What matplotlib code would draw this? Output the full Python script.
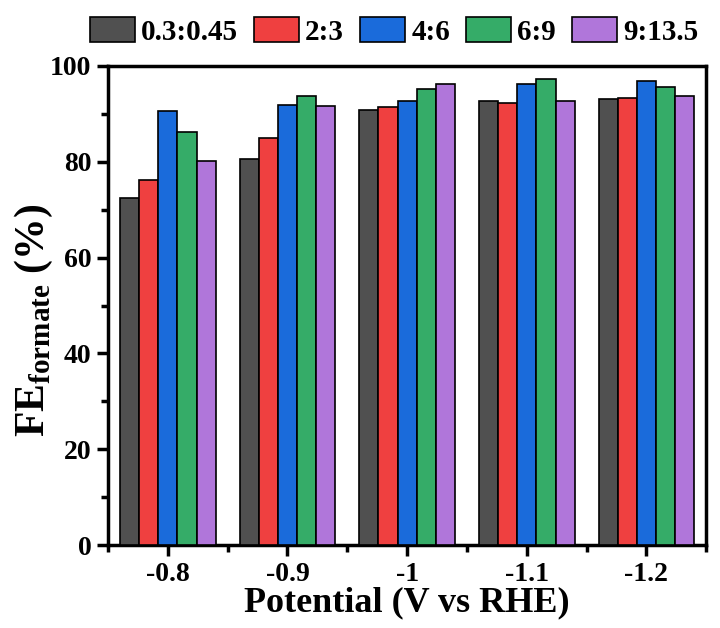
import matplotlib
matplotlib.use("Agg")
import matplotlib.pyplot as plt
import numpy as np
from matplotlib.ticker import MultipleLocator, FixedLocator

potentials = ["-0.8", "-0.9", "-1", "-1.1", "-1.2"]
series_names = ["0.3:0.45", "2:3", "4:6", "6:9", "9:13.5"]
s_03_045 = [72.4, 80.5, 90.8, 92.6, 93.1]
s_2_3 = [76.1, 84.9, 91.4, 92.3, 93.3]
s_4_6 = [90.5, 91.8, 92.6, 96.2, 96.9]
s_6_9 = [86.2, 93.7, 95.1, 97.2, 95.6]
s_9_135 = [80.1, 91.6, 96.3, 92.6, 93.7]
series = [s_03_045, s_2_3, s_4_6, s_6_9, s_9_135]
colors = ["#505050", "#EF4040", "#1A6BDB", "#35AC68", "#B076DA"]

plt.rcParams['font.family'] = ['Liberation Serif', 'DejaVu Serif']
plt.rcParams['font.weight'] = 'bold'
plt.rcParams['mathtext.fontset'] = 'custom'
plt.rcParams['mathtext.rm'] = 'Liberation Serif:bold'
plt.rcParams['mathtext.bf'] = 'Liberation Serif:bold'

fig = plt.figure(figsize=(7.2, 6.28), dpi=100)
ax = fig.add_axes([0.15, 0.132, 0.831, 0.763])

x = np.arange(1, len(potentials) + 1)
w = 0.16
for i, (vals, name, c) in enumerate(zip(series, series_names, colors)):
    ax.bar(x + (i - 2) * w, vals, width=w, color=c, edgecolor='black',
           linewidth=1.2, label=name, zorder=3)

ax.set_xlim(0.5, 5.5)
ax.set_ylim(0, 100)
ax.set_xticks(x)
ax.set_xticklabels(potentials)
ax.xaxis.set_minor_locator(FixedLocator(np.arange(0.5, 6.0, 1.0)))
ax.yaxis.set_major_locator(MultipleLocator(20))
ax.yaxis.set_minor_locator(MultipleLocator(10))

for s in ax.spines.values():
    s.set_linewidth(2.5)
ax.tick_params(axis='both', which='major', direction='out', length=8, width=2.5,
               labelsize=20, top=False, right=False, pad=4)
ax.tick_params(axis='both', which='minor', direction='out', length=5, width=2.5,
               top=False, right=False)
for lab in ax.get_xticklabels() + ax.get_yticklabels():
    lab.set_fontweight('bold')

ax.set_xlabel("Potential (V vs RHE)", fontsize=26, fontweight='bold', labelpad=0)
ax.set_ylabel(r"FE$_{\mathrm{formate}}$ (%)", fontsize=30, fontweight='bold')
ax.yaxis.set_label_coords(-0.088, 0.47)

leg = ax.legend(loc='lower center', bbox_to_anchor=(0.478, 1.0), ncol=5, frameon=False,
                prop={'family': 'Liberation Serif', 'weight': 'bold', 'size': 21},
                handlelength=1.55, handleheight=0.9, columnspacing=0.55,
                handletextpad=0.2, borderaxespad=0.3)

fig.savefig("out.png", dpi=100)
